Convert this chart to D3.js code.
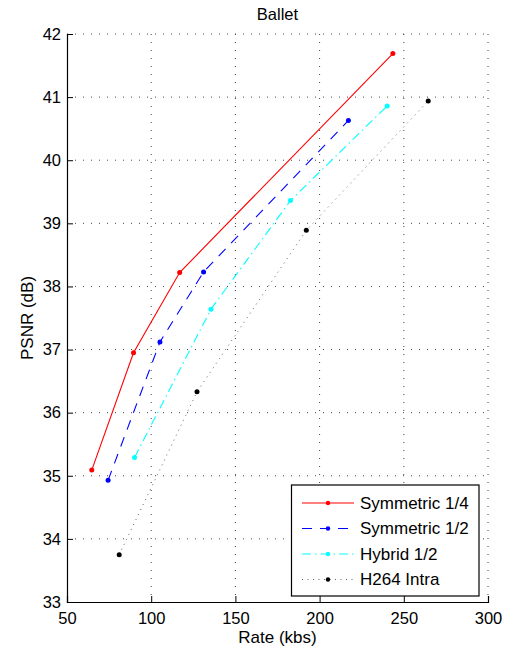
<!DOCTYPE html>
<html>
<head>
<meta charset="utf-8">
<script src="https://cdn.jsdelivr.net/npm/d3@7"></script>
<style>
  body { margin: 0; background: #fff; }
  text { font-family: "Liberation Sans", Arial, sans-serif; fill: #000; }
</style>
</head>
<body>
<div id="chart"></div>
<script>
// values
const seriesNames = ["Symmetric 1/4", "Symmetric 1/2", "Hybrid 1/2", "H264 Intra"];
const sym14Rate = [64.7, 89.5, 116.9, 243.5];
const sym14Psnr = [35.09, 36.95, 38.22, 41.69];
const sym12Rate = [74.4, 105.2, 131.1, 217.1];
const sym12Psnr = [34.93, 37.12, 38.23, 40.63];
const hyb12Rate = [90.1, 135.5, 182.7, 240.1];
const hyb12Psnr = [35.29, 37.64, 39.36, 40.86];
const h264Rate = [81.0, 127.2, 192.1, 264.5];
const h264Psnr = [33.75, 36.33, 38.89, 40.94];
const xTicks = [50, 100, 150, 200, 250, 300];
const yTicks = [33, 34, 35, 36, 37, 38, 39, 40, 41, 42];

const width = 507, height = 650;
const plotLeft = 67, plotRight = 488, plotTop = 34, plotBottom = 602;

const svg = d3.select("#chart").append("svg")
    .attr("width", width)
    .attr("height", height);

const x = d3.scaleLinear().domain([50, 300]).range([plotLeft, plotRight]);
const y = d3.scaleLinear().domain([33, 42]).range([plotBottom, plotTop]);

// dotted grid
const grid = svg.append("g").attr("class", "grid");
grid.selectAll("line.v")
    .data(xTicks.slice(1))
    .enter().append("line")
    .attr("x1", d => x(d)).attr("x2", d => x(d))
    .attr("y1", plotTop).attr("y2", plotBottom)
    .attr("stroke", "#444").attr("stroke-width", 1)
    .attr("stroke-dasharray", "1,7");
grid.selectAll("line.h")
    .data(yTicks.slice(1))
    .enter().append("line")
    .attr("y1", d => y(d)).attr("y2", d => y(d))
    .attr("x1", plotLeft).attr("x2", plotRight)
    .attr("stroke", "#444").attr("stroke-width", 1)
    .attr("stroke-dasharray", "1,7");

// axes (ticks point inward)
const xAxis = svg.append("g")
    .attr("transform", `translate(0,${plotBottom})`)
    .call(d3.axisBottom(x).tickValues(xTicks).tickSize(-6).tickPadding(10));
const yAxis = svg.append("g")
    .attr("transform", `translate(${plotLeft},0)`)
    .call(d3.axisLeft(y).tickValues(yTicks).tickSize(-6).tickPadding(6));
[xAxis, yAxis].forEach(a => {
    a.select(".domain").attr("stroke", "#000").attr("stroke-width", 1.2);
    a.selectAll(".tick line").attr("stroke", "#000");
    a.selectAll("text").style("font-size", "16.5px").attr("font-family", null);
});

// series
const series = [
    { name: seriesNames[0], rate: sym14Rate, psnr: sym14Psnr, color: "#ff0000", dash: null },
    { name: seriesNames[1], rate: sym12Rate, psnr: sym12Psnr, color: "#0000ff", dash: "10,8" },
    { name: seriesNames[2], rate: hyb12Rate, psnr: hyb12Psnr, color: "#00ffff", dash: "9,4,1.5,4" },
    { name: seriesNames[3], rate: h264Rate, psnr: h264Psnr, color: "#000000", dash: "1,4.5" }
];

const line = d3.line().x(d => x(d[0])).y(d => y(d[1]));

series.forEach(s => {
    const pts = s.rate.map((r, i) => [r, s.psnr[i]]);
    const g = svg.append("g");
    g.append("path")
        .attr("d", line(pts))
        .attr("fill", "none")
        .attr("stroke", s.color)
        .attr("stroke-width", s.dash === "1,4.5" ? 1 : 1.1)
        .attr("stroke-opacity", s.dash === "1,4.5" ? 0.6 : 1)
        .attr("stroke-dasharray", s.dash);
    g.selectAll("circle")
        .data(pts)
        .enter().append("circle")
        .attr("cx", d => x(d[0]))
        .attr("cy", d => y(d[1]))
        .attr("r", 2.5)
        .attr("fill", s.color);
});

// legend
const lg = svg.append("g");
lg.append("rect")
    .attr("x", 291.5).attr("y", 485)
    .attr("width", 187.5).attr("height", 111)
    .attr("fill", "#fff").attr("stroke", "#000").attr("stroke-width", 1.2);
series.forEach((s, i) => {
    const ly = 503 + i * 25.5;
    lg.append("line")
        .attr("x1", 302).attr("x2", 354)
        .attr("y1", ly).attr("y2", ly)
        .attr("stroke", s.color)
        .attr("stroke-width", 1.1)
        .attr("stroke-opacity", s.dash === "1,4.5" ? 0.6 : 1)
        .attr("stroke-dasharray", s.dash);
    lg.append("circle")
        .attr("cx", 328).attr("cy", ly).attr("r", 2.2)
        .attr("fill", s.color);
    lg.append("text")
        .attr("x", 360).attr("y", ly)
        .attr("dy", "0.35em")
        .style("font-size", "17px")
        .text(s.name);
});

// titles
svg.append("text")
    .attr("x", (plotLeft + plotRight) / 2).attr("y", 20)
    .attr("text-anchor", "middle")
    .style("font-size", "16.5px")
    .text("Ballet");
svg.append("text")
    .attr("x", (plotLeft + plotRight) / 2).attr("y", 643)
    .attr("text-anchor", "middle")
    .style("font-size", "17px")
    .text("Rate (kbs)");
svg.append("text")
    .attr("transform", `translate(33,${(plotTop + plotBottom) / 2}) rotate(-90)`)
    .attr("text-anchor", "middle")
    .style("font-size", "17px")
    .text("PSNR (dB)");
</script>
</body>
</html>
